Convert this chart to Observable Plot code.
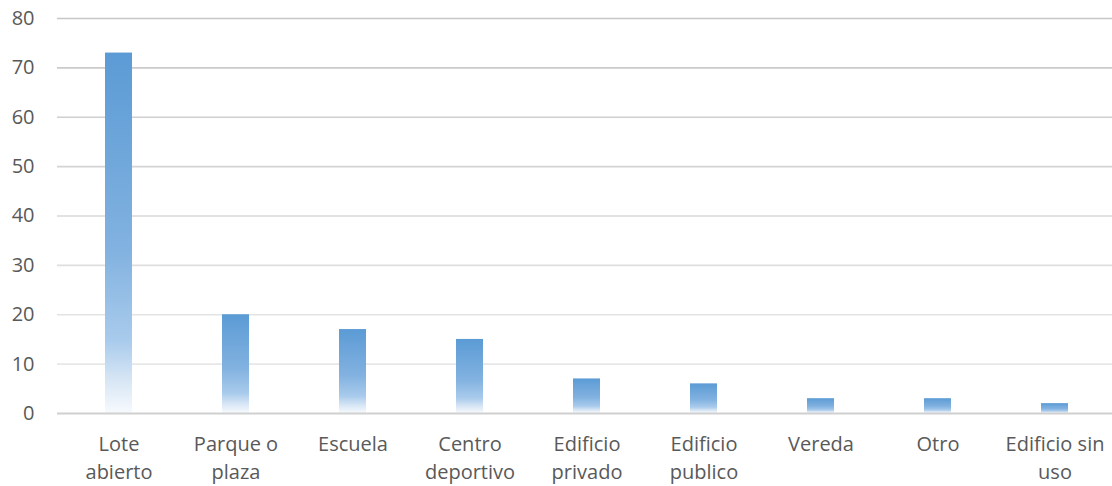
<!DOCTYPE html>
<html><head><meta charset="utf-8">
<script src="https://cdn.jsdelivr.net/npm/d3@7"></script>
<script src="https://cdn.jsdelivr.net/npm/@observablehq/plot@0.6"></script>
<style>
body{margin:0;background:#fff;overflow:hidden;}
#chart svg{display:block;}
</style>
</head><body><div id="chart"></div>
<script>
const categories = ["Lote abierto","Parque o plaza","Escuela","Centro deportivo","Edificio privado","Edificio publico","Vereda","Otro","Edificio sin uso"];
const labels = ["Lote\nabierto","Parque o\nplaza","Escuela","Centro\ndeportivo","Edificio\nprivado","Edificio\npublico","Vereda","Otro","Edificio sin\nuso"];
const values = [73,20,17,15,7,6,3,3,2];
const yTicks = [0,10,20,30,40,50,60,70,80];

const data = categories.map((c,i)=>({cat:c, value:values[i]}));
const labelOf = new Map(categories.map((c,i)=>[c,labels[i]]));

const gridColor = v => d3.interpolateRgb("#ececec","#c6c6c6")(v/80);

const plot = Plot.plot({
  width:1112, height:486,
  marginLeft:57, marginRight:-4, marginTop:18, marginBottom:73,
  style:{fontFamily:"'Open Sans', Lato, sans-serif", fontSize:"20px", color:"#595959", background:"#fff"},
  x:{domain:categories, paddingInner:0.77, paddingOuter:0.385},
  y:{domain:[0,80]},
  marks:[
    () => {
      const svg = d3.create("svg:defs");
      const g = svg.append("linearGradient").attr("id","barGrad").attr("x1",0).attr("y1",0).attr("x2",0).attr("y2",1);
      g.append("stop").attr("offset","0").attr("stop-color","#5b9bd5");
      g.append("stop").attr("offset","0.55").attr("stop-color","#82b2e0");
      g.append("stop").attr("offset","0.8").attr("stop-color","#a9cbec");
      g.append("stop").attr("offset","0.9").attr("stop-color","#d4e4f4");
      g.append("stop").attr("offset","1").attr("stop-color","#f7fafd");
      return svg.node();
    },
    Plot.ruleY(yTicks.filter(v=>v>0), {y:d=>d, stroke:d=>gridColor(d), strokeWidth:1.6}),
    Plot.barY(data, {x:"cat", y:"value", fill:"url(#barGrad)"}),
    Plot.ruleY([0], {stroke:"#d0d0d0", strokeWidth:1.8}),
    Plot.axisY({ticks:yTicks, tickSize:0, tickPadding:23, label:null, fontSize:20, fill:"#595959"}),
    Plot.axisX({tickSize:0, tickPadding:18, label:null, fontSize:20, lineHeight:1.38, fill:"#595959", tickFormat:d=>labelOf.get(d)})
  ]
});
document.getElementById("chart").appendChild(plot);
</script>
</body></html>
